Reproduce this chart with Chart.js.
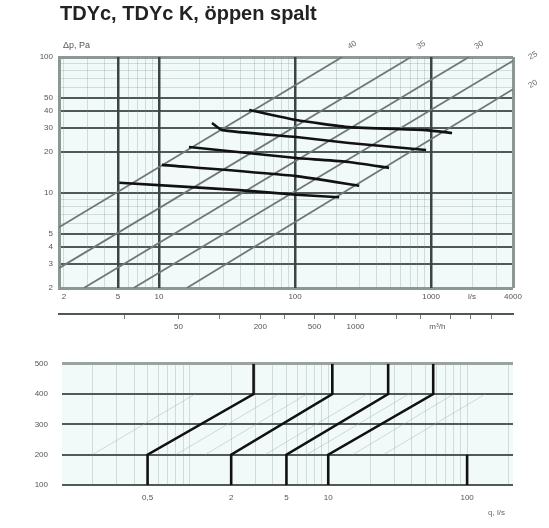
<!DOCTYPE html>
<html><head><meta charset="utf-8">
<script src="https://cdn.jsdelivr.net/npm/chart.js@4.4.1/dist/chart.umd.min.js"></script>
<style>
html,body{margin:0;padding:0;background:#fff;}
#wrap{position:relative;width:549px;height:528px;overflow:hidden;font-family:"Liberation Sans",Arial,sans-serif;}
#c1{position:absolute;left:0;top:0;}
#c2{position:absolute;left:0;top:345px;}
.t{position:absolute;white-space:nowrap;color:#222;}
</style></head><body>
<div id="wrap">
<canvas id="c1" width="549" height="345"></canvas>
<canvas id="c2" width="549" height="183"></canvas>
<div class="t" style="left:60px;top:2px;font-size:20px;font-weight:bold;">TDYc, TDYc K, öppen spalt</div>
<div class="t" style="left:63px;top:40px;font-size:9px;color:#555">Δp, Pa</div>
<div class="t" style="left:488px;top:508px;font-size:8px;color:#666">q, l/s</div>
</div>
<script>
// ---------- top chart data ----------
const flowTicksLs = [2,3,4,5,6,7,8,9,10,20,30,40,50,60,70,80,90,100,200,300,400,500,600,700,800,900,1000,2000,3000,4000];
const flowLabelsLs = {2:'2',5:'5',10:'10',100:'100',1000:'1000',2000:'l/s',4000:'4000'};
const flowMajorLs = [5,10,100,1000];
const flowTicksM3h = [20,50,100,200,300,500,700,1000,2000,3000,4000,5000,7000,10000];
const flowLabelsM3h = {50:'50',200:'200',500:'500',1000:'1000',4000:'m³/h'};
const pressTicks = [2,3,4,5,6,7,8,9,10,20,30,40,50,60,70,80,90,100];
const pressLabels = {2:'2',3:'3',4:'4',5:'5',10:'10',20:'20',30:'30',40:'40',50:'50',100:'100'};
const pressMajor = [3,4,5,10,20,30,40,50];

// sound level lines (start/end flow and pressure)
const soundLabels = ['40','35','30','25','20'];
const soundLineQ = [[1.84,222],[1.84,713],[2.8,1900],[6.5,4000],[16,4000]];
const soundLineP = [[5.6,100],[2.8,100],[2,100],[2,94],[2,58]];

// slot curves
const curveQ = [[46,102,249,918,1426],[24.5,29,102,249,918],[16.6,102,249,491],[10.5,102,296],[5.1,38.7,102,211]];
const curveP = [[40.8,34.4,30.5,29,27.6],[32.7,29,25.8,23.3,20.7],[21.8,18.1,16.9,15.3],[16.1,13.3,11.3],[11.9,10.5,9.7,9.3]];

// ---------- lower chart data ----------
const lowerXTicks = [0.2,0.3,0.4,0.5,0.6,0.7,0.8,0.9,1,2,3,4,5,6,7,8,9,10,20,30,40,50,60,70,80,90,100,200];
const lowerXLabels = {0.5:'0,5',2:'2',5:'5',10:'10',100:'100'};
const lowerYTicks = [100,200,300,400,500];
const lowerYLabels = {100:'100',200:'200',300:'300',400:'400',500:'500'};
const sizeStartX = [0.5,2,5,10];
const sizeEndX = [2.9,10.7,27,57];
const lowerLevels = [100,200,400,500];
const extraLineX = [100];
const faintStartX = [0.2,0.8,1.3,3.5,7,15,25];
const faintEndX = [1.1,4.4,7,19,38,80,135];

const FONT = '"Liberation Sans", Arial, sans-serif';
const MINOR = 'rgba(120,145,140,0.28)';
const bgPlugin = {id:'bg', beforeDraw(chart){const {ctx,chartArea:a}=chart; ctx.save(); ctx.fillStyle='#f1faf8'; ctx.fillRect(a.left,a.top,a.right-a.left,a.bottom-a.top); ctx.restore();}};

const diagLabelPlugin = {id:'diagLabels', afterDatasetsDraw(chart){
  const {ctx,scales:{x,y}}=chart;
  soundLabels.forEach((lab,i)=>{
    const x0=x.getPixelForValue(soundLineQ[i][0]), y0=y.getPixelForValue(soundLineP[i][0]);
    const x1=x.getPixelForValue(soundLineQ[i][1]), y1=y.getPixelForValue(soundLineP[i][1]);
    const ang=Math.atan2(y1-y0,x1-x0);
    const atTop = soundLineP[i][1]>=100;
    ctx.save();
    ctx.translate(x1+(atTop?10:20), y1+(atTop?-12:-5));
    ctx.rotate(ang);
    ctx.font='8px '+FONT; ctx.fillStyle='#6a6a6a'; ctx.textAlign='center'; ctx.textBaseline='middle';
    ctx.fillText(lab,0,0);
    ctx.restore();
  });
}};

const topDatasets = [];
curveQ.forEach((qs,i)=>{
  topDatasets.push({data: qs.map((q,j)=>({x:q,y:curveP[i][j]})), borderColor:'#111', borderWidth:2.6, pointRadius:0, tension:0.15, xAxisID:'x', yAxisID:'y'});
});
soundLineQ.forEach((qs,i)=>{
  topDatasets.push({data: qs.map((q,j)=>({x:q,y:soundLineP[i][j]})), borderColor:'#6f7876', borderWidth:1.8, pointRadius:0, xAxisID:'x', yAxisID:'y'});
});

new Chart(document.getElementById('c1'), {
  type:'line',
  data:{datasets: topDatasets},
  options:{
    responsive:false, animation:false, events:[],
    layout:{padding:{left:0,right:36,top:57,bottom:0}},
    plugins:{legend:{display:false}, tooltip:{enabled:false}},
    scales:{
      y:{type:'logarithmic', position:'left', min:2, max:100,
         afterBuildTicks:s=>{s.ticks=pressTicks.map(v=>({value:v}));},
         afterFit:s=>{s.width=59;},
         ticks:{autoSkip:false, padding:6, font:{size:8,family:FONT}, color:'#555',
                callback:(v)=>pressLabels[v]!==undefined?pressLabels[v]:''},
         grid:{drawTicks:false,
               color:c=>{const v=c.tick&&c.tick.value; if(v===100||v===2) return '#8d9896'; return pressMajor.includes(v)?'#4f5a58':MINOR;},
               lineWidth:c=>{const v=c.tick&&c.tick.value; if(v===100||v===2) return 3; return pressMajor.includes(v)?2:1;}},
         border:{display:true,color:'#8d9896',width:3}},
      x:{type:'logarithmic', position:'bottom', weight:0, min:1.84, max:4000,
         afterBuildTicks:s=>{s.ticks=flowTicksLs.map(v=>({value:v}));},
         afterFit:s=>{s.height=26;},
         ticks:{autoSkip:false, maxRotation:0, padding:4, font:{size:8,family:FONT}, color:'#555',
                callback:(v)=>flowLabelsLs[v]!==undefined?flowLabelsLs[v]:''},
         grid:{drawTicks:false,
               color:c=>{const v=c.tick&&c.tick.value; if(v===4000) return '#8d9896'; return flowMajorLs.includes(v)?'#3b4543':MINOR;},
               lineWidth:c=>{const v=c.tick&&c.tick.value; if(v===4000) return 3; return flowMajorLs.includes(v)?2.5:1;}},
         border:{display:false}},
      x2:{type:'logarithmic', position:'bottom', weight:1, min:6.62, max:14400,
         afterBuildTicks:s=>{s.ticks=flowTicksM3h.map(v=>({value:v}));},
         afterFit:s=>{s.height=31;},
         ticks:{autoSkip:false, maxRotation:0, padding:3, font:{size:8,family:FONT}, color:'#555',
                callback:(v)=>flowLabelsM3h[v]!==undefined?flowLabelsM3h[v]:''},
         grid:{drawOnChartArea:false, drawTicks:true, tickLength:5,
               color:c=>{const v=c.tick&&c.tick.value; return v===4000?'rgba(0,0,0,0)':'#777';}, lineWidth:1},
         border:{display:true,color:'#4f5856',width:2}}
    }
  },
  plugins:[bgPlugin, diagLabelPlugin]
});

// ---------- lower chart ----------
const lowDatasets = [];
sizeStartX.forEach((xs,i)=>{
  const xe = sizeEndX[i];
  lowDatasets.push({data:[{x:xs,y:lowerLevels[0]},{x:xs,y:lowerLevels[1]},{x:xe,y:lowerLevels[2]},{x:xe,y:lowerLevels[3]}],
    borderColor:'#111', borderWidth:2.6, pointRadius:0});
});
extraLineX.forEach(xv=>{
  lowDatasets.push({data:[{x:xv,y:lowerLevels[0]},{x:xv,y:lowerLevels[1]}], borderColor:'#111', borderWidth:2.6, pointRadius:0});
});
faintStartX.forEach((xs,i)=>{
  lowDatasets.push({data:[{x:xs,y:lowerLevels[1]},{x:faintEndX[i],y:lowerLevels[2]}], borderColor:'rgba(150,168,165,0.4)', borderWidth:1, pointRadius:0});
});

new Chart(document.getElementById('c2'), {
  type:'line',
  data:{datasets: lowDatasets},
  options:{
    responsive:false, animation:false, events:[],
    layout:{padding:{left:0,right:36,top:12,bottom:0}},
    plugins:{legend:{display:false}, tooltip:{enabled:false}},
    scales:{
      x:{type:'logarithmic', position:'bottom', min:0.121, max:214,
         afterBuildTicks:s=>{s.ticks=lowerXTicks.map(v=>({value:v}));},
         afterFit:s=>{s.height=43;},
         ticks:{autoSkip:false, maxRotation:0, padding:8, font:{size:8,family:FONT}, color:'#555',
                callback:(v)=>lowerXLabels[v]!==undefined?lowerXLabels[v]:''},
         grid:{drawTicks:false, color:MINOR, lineWidth:1},
         border:{display:false}},
      y:{type:'linear', position:'left', min:100, max:500,
         afterBuildTicks:s=>{s.ticks=lowerYTicks.map(v=>({value:v}));},
         afterFit:s=>{s.width=62;},
         ticks:{autoSkip:false, padding:14, font:{size:8,family:FONT}, color:'#555',
                callback:(v)=>lowerYLabels[v]!==undefined?lowerYLabels[v]:''},
         grid:{drawTicks:false,
               color:c=>{const v=c.tick&&c.tick.value; return v===500?'#9aa3a1':'#505b59';},
               lineWidth:c=>{const v=c.tick&&c.tick.value; return v===500?3:2;}},
         border:{display:false}}
    }
  },
  plugins:[bgPlugin]
});
</script>
</body></html>
